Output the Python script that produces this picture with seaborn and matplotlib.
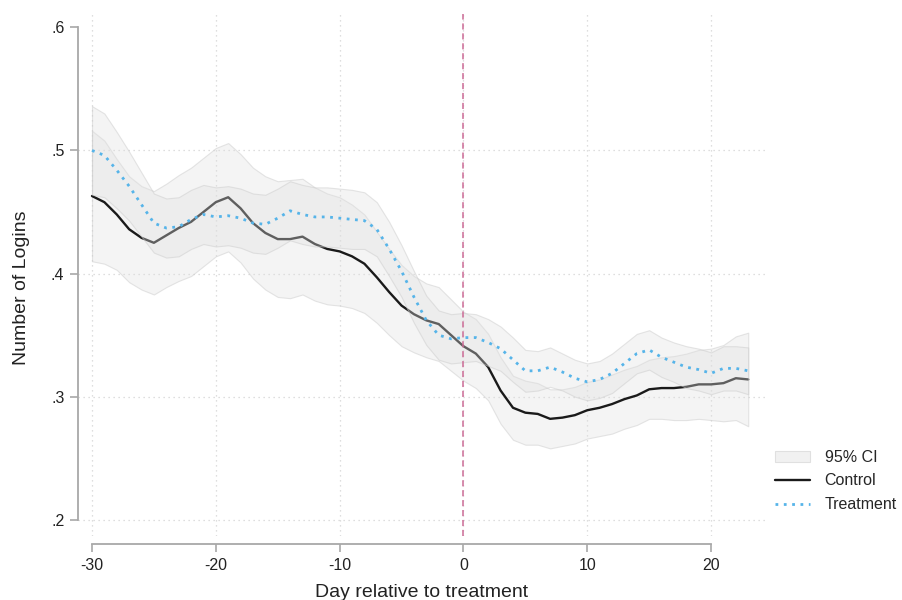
import numpy as np
import pandas as pd
import matplotlib
matplotlib.use('Agg')
import matplotlib.pyplot as plt
import seaborn as sns
from matplotlib.patches import Patch
from matplotlib.lines import Line2D

# days relative to treatment
days = list(range(-30, 24))

# mean logins per day
control = [0.463, 0.458, 0.448, 0.436, 0.429, 0.425, 0.431, 0.437, 0.442, 0.450,
           0.458, 0.462, 0.453, 0.441, 0.433, 0.428, 0.428, 0.430, 0.424, 0.420,
           0.418, 0.414, 0.408, 0.397, 0.385, 0.374, 0.367, 0.362, 0.359, 0.350,
           0.341, 0.335, 0.324, 0.305, 0.291, 0.287, 0.286, 0.282, 0.283, 0.285,
           0.289, 0.291, 0.294, 0.298, 0.301, 0.306, 0.307, 0.307, 0.308, 0.310,
           0.310, 0.311, 0.315, 0.314]
treatment = [0.500, 0.496, 0.484, 0.471, 0.456, 0.441, 0.437, 0.438, 0.444, 0.448,
             0.446, 0.447, 0.445, 0.441, 0.440, 0.445, 0.451, 0.448, 0.446, 0.446,
             0.445, 0.444, 0.443, 0.436, 0.420, 0.402, 0.381, 0.362, 0.350, 0.347,
             0.348, 0.348, 0.344, 0.339, 0.330, 0.321, 0.321, 0.324, 0.320, 0.315,
             0.312, 0.314, 0.319, 0.327, 0.335, 0.338, 0.332, 0.328, 0.324, 0.322,
             0.319, 0.323, 0.323, 0.321]

# half width of the 95% CI
control_hw = [0.053, 0.050, 0.045, 0.043, 0.042, 0.042, 0.042, 0.043, 0.044, 0.044,
              0.044, 0.044, 0.044, 0.045, 0.046, 0.047, 0.048, 0.047, 0.046, 0.045,
              0.044, 0.042, 0.040, 0.037, 0.035, 0.033, 0.031, 0.030, 0.030, 0.029,
              0.028, 0.028, 0.027, 0.027, 0.026, 0.026, 0.025, 0.024, 0.023, 0.023,
              0.023, 0.023, 0.024, 0.024, 0.024, 0.024, 0.025, 0.026, 0.027, 0.028,
              0.029, 0.031, 0.034, 0.038]
treatment_hw = [0.036, 0.034, 0.031, 0.028, 0.026, 0.024, 0.024, 0.024, 0.024, 0.024,
                0.024, 0.024, 0.024, 0.024, 0.024, 0.024, 0.024, 0.024, 0.024, 0.024,
                0.024, 0.024, 0.023, 0.022, 0.022, 0.021, 0.021, 0.020, 0.020, 0.020,
                0.020, 0.019, 0.019, 0.018, 0.018, 0.017, 0.016, 0.016, 0.015, 0.015,
                0.015, 0.015, 0.016, 0.016, 0.016, 0.016, 0.016, 0.016, 0.017, 0.017,
                0.017, 0.018, 0.018, 0.019]

xticks = [-30, -20, -10, 0, 10, 20]
yticks = [0.2, 0.3, 0.4, 0.5, 0.6]
ytick_labels = ['.2', '.3', '.4', '.5', '.6']

df = pd.DataFrame({
    'day': days * 2,
    'logins': control + treatment,
    'hw': control_hw + treatment_hw,
    'group': ['Control'] * len(days) + ['Treatment'] * len(days),
})
df['lo'] = df['logins'] - df['hw']
df['hi'] = df['logins'] + df['hw']

sns.set_style('white')
plt.rcParams['font.family'] = ['Liberation Sans', 'DejaVu Sans']
plt.rcParams['axes.unicode_minus'] = False

fig = plt.figure(figsize=(9.03, 6.0), dpi=100)
ax = fig.add_axes([0.0868, 0.107, 0.761, 0.870])

ci_face = (0.88, 0.88, 0.88, 0.35)
ci_edge = (0.80, 0.80, 0.80, 0.5)
blue = '#56b4e9'

# grid
for yv in yticks[:-1]:
    ax.axhline(yv, color='#d4d4d4', lw=0.9, ls=(0, (1, 3)), zorder=0)
for xv in xticks:
    ax.axvline(xv, color='#d4d4d4', lw=0.9, ls=(0, (1, 3)), zorder=0)

c = df[df['group'] == 'Control']
t = df[df['group'] == 'Treatment']

ax.fill_between(c['day'], c['lo'], c['hi'], facecolor=ci_face, edgecolor=ci_edge, lw=0.8, zorder=1)
sns.lineplot(data=c, x='day', y='logins', color='#1a1a1a', lw=1.7, ax=ax, zorder=2)
ax.fill_between(t['day'], t['lo'], t['hi'], facecolor=ci_face, edgecolor=ci_edge, lw=0.8, zorder=3)
sns.lineplot(data=t, x='day', y='logins', color=blue, lw=2.0, ls=(0, (1.0, 2.0)), ax=ax, zorder=4)

ax.axvline(0, color='#cc6b96', lw=1.1, ls=(0, (4, 2.5)), zorder=5)

ax.set_xlim(-31.1, 24.4)
ax.set_ylim(0.187, 0.611)
ax.set_xticks(xticks)
ax.set_yticks(yticks)
ax.set_yticklabels(ytick_labels)

sns.despine(ax=ax)
ax.spines['left'].set_bounds(0.2, 0.6)
ax.spines['bottom'].set_bounds(-30, 20)
ax.spines['bottom'].set_position(('outward', 6))
for s in ['left', 'bottom']:
    ax.spines[s].set_color('#a8a8a8')
    ax.spines[s].set_linewidth(1.3)
ax.tick_params(axis='both', left=True, bottom=True, length=6, width=1.2, color='#a8a8a8',
               labelsize=11.5, labelcolor='#222222', pad=4)

ax.set_xlabel('Day relative to treatment', fontsize=14, color='#222222', labelpad=8)
ax.set_ylabel('Number of Logins', fontsize=14, color='#222222')
ax.yaxis.set_label_coords(-0.071, 0.475)

handles = [
    Patch(facecolor='#f1f1f1', edgecolor='#e0e0e0', lw=0.8),
    Line2D([], [], color='#1a1a1a', lw=1.7),
    Line2D([], [], color=blue, lw=2.0, ls=(0, (1.0, 2.0))),
]
ax.legend(handles, ['95% CI', 'Control', 'Treatment'], loc='center left',
          bbox_to_anchor=(1.0, 0.105), frameon=False, fontsize=11.5,
          handlelength=2.2, handletextpad=0.9, labelspacing=0.55, borderaxespad=0.2)

fig.savefig('out.png', dpi=100)
